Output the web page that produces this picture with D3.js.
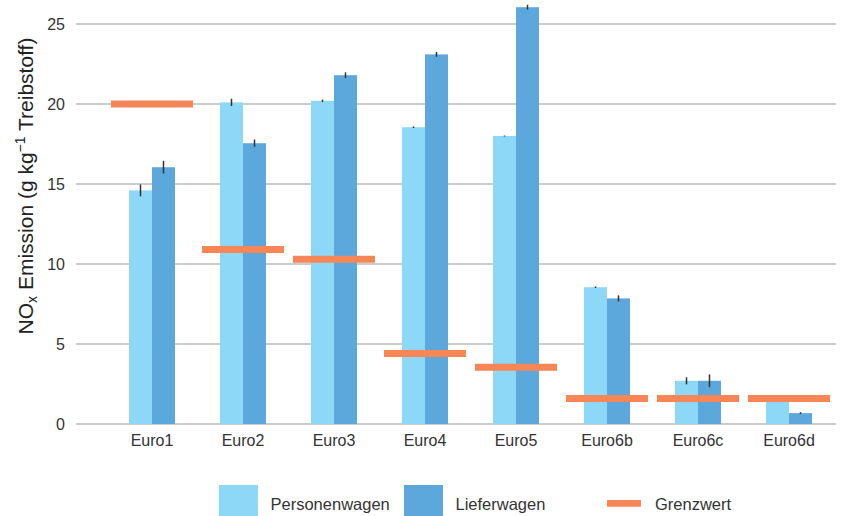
<!DOCTYPE html>
<html>
<head>
<meta charset="utf-8">
<script src="https://cdn.jsdelivr.net/npm/d3@7"></script>
<style>
  body { margin: 0; background: #fff; }
  svg { display: block; font-family: "Liberation Sans", Arial, Helvetica, sans-serif; }
</style>
</head>
<body>
<svg id="chart" width="843" height="516"></svg>
<script>
// NOx emission per kg of fuel by Euro norm, with standard-error whiskers
const categories = ["Euro1", "Euro2", "Euro3", "Euro4", "Euro5", "Euro6b", "Euro6c", "Euro6d"];
const personenwagen    = [14.6, 20.1, 20.2, 18.55, 18.0, 8.55, 2.7, 1.75];
const personenwagenErr = [0.37, 0.23, 0.08, 0.05, 0.03, 0.05, 0.22, 0.05];
const lieferwagen      = [16.05, 17.55, 21.8, 23.1, 26.05, 7.85, 2.7, 0.68];
const lieferwagenErr   = [0.4, 0.23, 0.18, 0.15, 0.15, 0.19, 0.4, 0.06];
const grenzwert        = [20, 10.9, 10.3, 4.4, 3.55, 1.6, 1.6, 1.6];
const yTicks = [0, 5, 10, 15, 20, 25];
const seriesNames = ["Personenwagen", "Lieferwagen"];
const legendLabels = ["Personenwagen", "Lieferwagen", "Grenzwert"];

const colors = { Personenwagen: "#8ed8f7", Lieferwagen: "#5ca8dc", Grenzwert: "#f78656" };

const svg = d3.select("#chart");

const y = d3.scaleLinear().domain([0, 25]).range([424, 24]);
const x = d3.scaleBand().domain(categories).range([106.5, 834.5]);
const xs = d3.scaleBand().domain(seriesNames).range([22.5, 68.5]);

// horizontal grid lines
svg.append("g").selectAll("line").data(yTicks).join("line")
  .attr("x1", 76).attr("x2", 836)
  .attr("y1", d => y(d)).attr("y2", d => y(d))
  .attr("stroke", "#bababa").attr("stroke-width", 1.6);

// y tick labels
svg.append("g").selectAll("text").data(yTicks).join("text")
  .attr("x", 65).attr("y", d => y(d)).attr("dy", "0.36em")
  .attr("text-anchor", "end").attr("font-size", 16).attr("fill", "#333")
  .text(d => d);

// x tick labels
svg.append("g").selectAll("text").data(categories).join("text")
  .attr("x", d => x(d) + x.bandwidth() / 2).attr("y", 446)
  .attr("text-anchor", "middle").attr("font-size", 16).attr("fill", "#333")
  .text(d => d);

// y axis title
const title = svg.append("text")
  .attr("transform", "translate(33,186) rotate(-90)")
  .attr("text-anchor", "middle").attr("font-size", 21).attr("fill", "#222");
title.append("tspan").text("NO");
title.append("tspan").attr("font-size", 14).attr("dy", 4).text("x");
title.append("tspan").attr("dy", -4).text(" Emission (g kg");
title.append("tspan").attr("font-size", 14).attr("dy", -8).text("\u22121");
title.append("tspan").attr("dy", 8).text(" Treibstoff)");

// bars and error bars
const rows = categories.map((c, i) => [
  { cat: c, s: "Personenwagen", v: personenwagen[i], e: personenwagenErr[i] },
  { cat: c, s: "Lieferwagen", v: lieferwagen[i], e: lieferwagenErr[i] }
]).flat();

svg.append("g").selectAll("rect").data(rows).join("rect")
  .attr("x", d => x(d.cat) + xs(d.s))
  .attr("width", xs.bandwidth())
  .attr("y", d => y(d.v))
  .attr("height", d => y(0) - y(d.v))
  .attr("fill", d => colors[d.s]);

svg.append("g").selectAll("line").data(rows).join("line")
  .attr("x1", d => x(d.cat) + xs(d.s) + xs.bandwidth() / 2)
  .attr("x2", d => x(d.cat) + xs(d.s) + xs.bandwidth() / 2)
  .attr("y1", d => y(d.v - d.e))
  .attr("y2", d => y(d.v + d.e))
  .attr("stroke", "#333").attr("stroke-width", 1.5);

// limit values
svg.append("g").selectAll("line").data(categories).join("line")
  .attr("x1", d => x(d) + 4.5)
  .attr("x2", d => x(d) + x.bandwidth() - 4.5)
  .attr("y1", (d, i) => y(grenzwert[i]))
  .attr("y2", (d, i) => y(grenzwert[i]))
  .attr("stroke", colors.Grenzwert).attr("stroke-width", 7);

// legend
const lg = svg.append("g");
const legendX = [219, 404, 607];
const textX = [270.5, 455.5, 655];
legendLabels.forEach((name, i) => {
  if (name === "Grenzwert") {
    lg.append("line").attr("x1", legendX[i]).attr("x2", legendX[i] + 34)
      .attr("y1", 503.3).attr("y2", 503.3)
      .attr("stroke", colors.Grenzwert).attr("stroke-width", 6.7);
  } else {
    lg.append("rect").attr("x", legendX[i]).attr("y", 485)
      .attr("width", 39).attr("height", 34).attr("fill", colors[name]);
  }
  lg.append("text").attr("x", textX[i]).attr("y", 510)
    .attr("font-size", 16.5).attr("fill", "#333").text(name);
});
</script>
</body>
</html>
